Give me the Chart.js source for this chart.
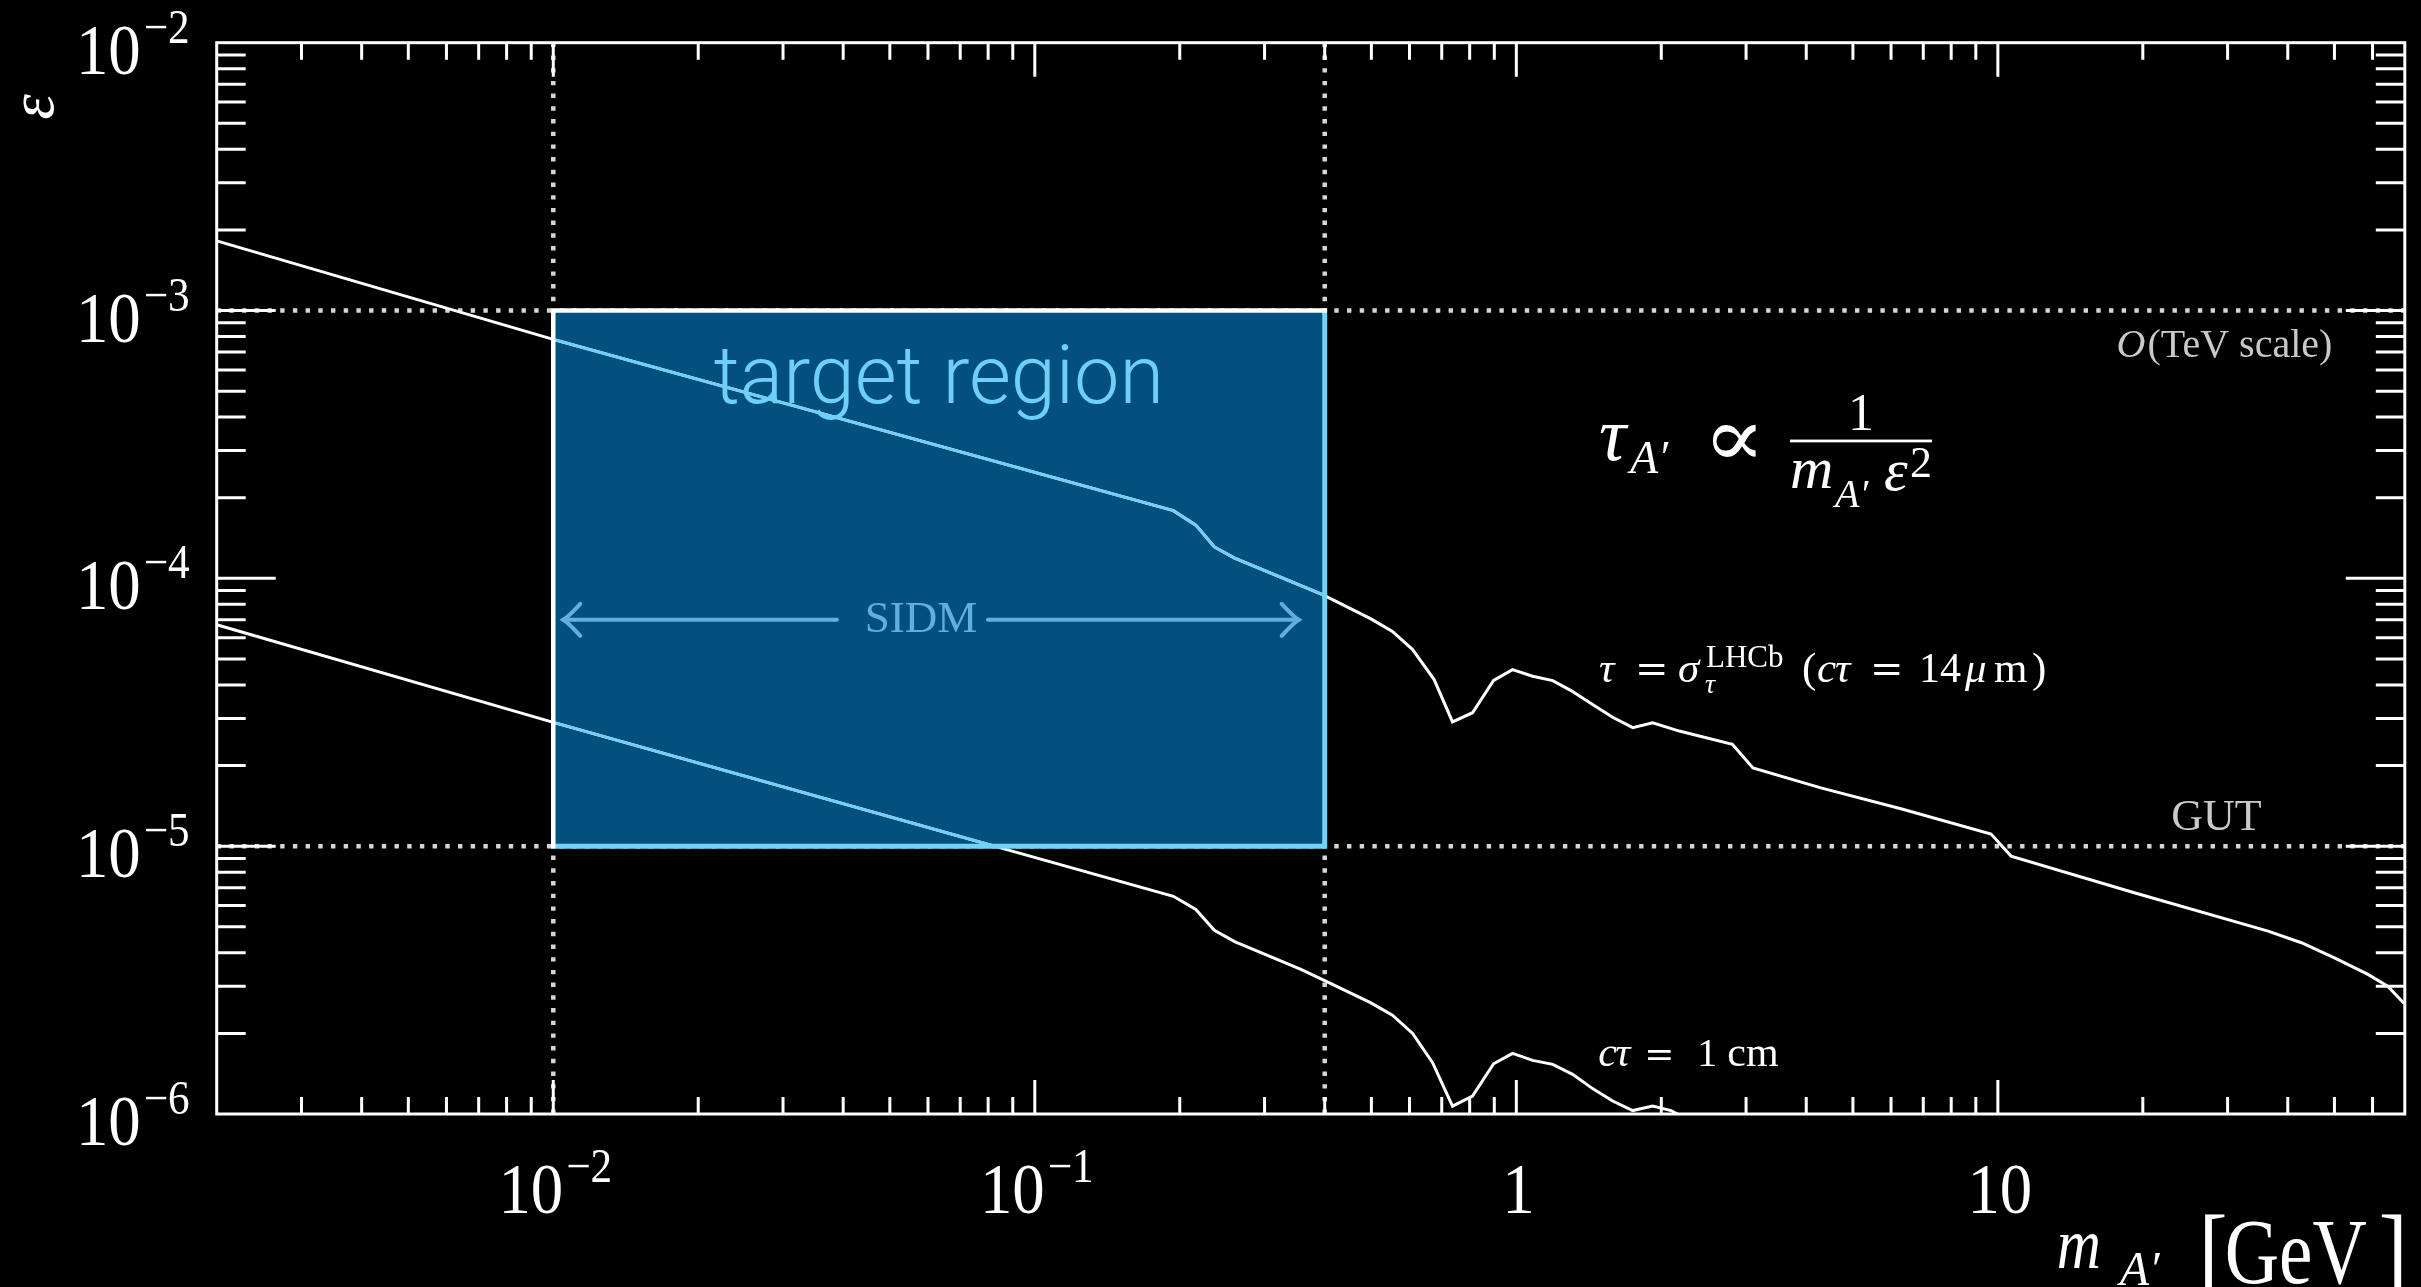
<!DOCTYPE html>
<html>
<head>
<meta charset="utf-8">
<title>Dark photon lifetime contours</title>
<script src="https://cdn.jsdelivr.net/npm/chart.js@4.4.1/dist/chart.umd.min.js"></script>
<style>
  html, body { margin: 0; padding: 0; background: #000; }
  canvas { display: block; }
</style>
</head>
<body>
<canvas id="plot" width="2421" height="1287"></canvas>
<script>
// Lifetime contour tau = sigma_tau^LHCb (c tau = 14 um): dark photon mass [GeV] vs kinetic mixing
const massLHCb = [0.002, 0.01, 0.194, 0.216, 0.236, 0.260, 0.396, 0.499, 0.553, 0.609, 0.675,
  0.737, 0.811, 0.897, 0.982, 1.081, 1.19, 1.299, 1.44, 1.585, 1.745, 1.919, 2.18, 2.81, 3.10,
  4.29, 6.29, 9.68, 10.65, 19.2, 36.4, 42.7, 50.0, 58.7, 64.5, 69.7];
const epsLHCb = [1.82e-3, 7.8e-4, 1.79e-4, 1.58e-4, 1.31e-4, 1.19e-4, 8.69e-5, 7.06e-5, 6.34e-5, 5.42e-5, 4.19e-5,
  2.91e-5, 3.15e-5, 4.16e-5, 4.56e-5, 4.31e-5, 4.15e-5, 3.81e-5, 3.38e-5, 3.03e-5, 2.77e-5, 2.89e-5, 2.69e-5, 2.40e-5, 1.96e-5,
  1.65e-5, 1.38e-5, 1.11e-5, 9.18e-6, 6.70e-6, 4.82e-6, 4.36e-6, 3.83e-6, 3.32e-6, 3.00e-6, 2.59e-6];

// Lifetime contour c tau = 1 cm
const mass1cm = [0.002, 0.01, 0.194, 0.216, 0.236, 0.260, 0.357, 0.40, 0.499, 0.553, 0.609, 0.670,
  0.737, 0.811, 0.897, 0.982, 1.081, 1.19, 1.309, 1.44, 1.585, 1.745, 1.919, 2.095, 2.18];
const eps1cm = [6.71e-5, 2.9e-5, 6.5e-6, 5.8e-6, 4.85e-6, 4.4e-6, 3.47e-6, 3.15e-6, 2.60e-6, 2.34e-6, 2.0e-6, 1.555e-6,
  1.07e-6, 1.167e-6, 1.54e-6, 1.684e-6, 1.586e-6, 1.532e-6, 1.406e-6, 1.244e-6, 1.118e-6, 1.03e-6, 1.07e-6, 1.03e-6, 9.9e-7];

// Axis extents
const massRange = [0.002, 70];
const epsRange = [1e-6, 1e-2];

// Tick labels (base and exponent)
const massTickValues = [0.01, 0.1, 1, 10];
const massTickBase = ['10', '10', '1', '10'];
const massTickExp = ['\u22122', '\u22121', '', ''];
const epsTickValues = [1e-2, 1e-3, 1e-4, 1e-5, 1e-6];
const epsTickBase = ['10', '10', '10', '10', '10'];
const epsTickExp = ['\u22122', '\u22123', '\u22124', '\u22125', '\u22126'];

// Reference lines: O(TeV) and GUT mixing scales, SIDM mass window
const epsScaleLines = [1e-3, 1e-5];
const massSidmLines = [0.01, 0.4];

// Target region in (mass, mixing)
const targetMass = [0.01, 0.4];
const targetEps = [1e-5, 1e-3];

// Anchors for the annotations, in data coordinates
const anchorTarget = { m: 0.0632, e: 4.5e-4 };
const anchorSidm = { m: 0.058, e: 7e-5 };
const anchorFormula = { m: 1.485, e: 2.765e-4 };
const anchorLHCb = { m: 1.485, e: 4.10e-5 };
const anchor1cm = { m: 1.48, e: 1.51e-6 };
const anchorGUT = { m: 22.9, e: 1.149e-5 };
const anchorTeV = { m: 49.5, e: 6.7e-4 };

const SERIF = '"Liberation Serif", "DejaVu Serif", serif';
const SYMBOL = '"DejaVu Serif", "Liberation Serif", serif';
const WHITE = '#ffffff';
const GREY = '#c9c9c9';
const BOX_FILL = '#03507e';
const BOX_LIGHT = '#74d2f8';
const INBOX_LINE = '#6fcff6';
const SIDM_BLUE = '#62aedf';

function pts(xs, ys) { return xs.map((m, i) => ({ x: m, y: ys[i] })); }

function font(style, size) { return `${style} ${size}px ${SERIF}`; }
function sym(size) { return `${size}px ${SYMBOL}`; }

// Draw a list of text pieces placed relative to (x0, y0)
function drawPieces(ctx, pieces, x0, y0, color) {
  ctx.save();
  ctx.fillStyle = color;
  ctx.textBaseline = 'alphabetic';
  pieces.forEach(p => {
    ctx.save();
    ctx.font = p.f;
    ctx.translate(x0 + p.dx, y0 + (p.dy || 0));
    ctx.scale(p.sx || 1, 1);
    ctx.textAlign = p.align || 'left';
    ctx.fillText(p.t, 0, 0);
    ctx.restore();
  });
  ctx.restore();
}

// Power-of-ten label: returns total width; draws when draw=true
function powerLabel(ctx, base, exp, x, y, draw) {
  const sx = 0.9;
  ctx.font = font('', 72);
  const wb = ctx.measureText(base).width * sx;
  ctx.font = font('', 48);
  const we = exp ? ctx.measureText(exp).width * sx + 3 : 0;
  if (draw) {
    drawPieces(ctx, [{ t: base, f: font('', 72), dx: 0, sx }], x, y, WHITE);
    if (exp) drawPieces(ctx, [{ t: exp, f: font('', 48), dx: wb + 3, dy: -31, sx }], x, y, WHITE);
  }
  return wb + we;
}

function minorValues(lo, hi) {
  const out = [];
  for (let e = Math.floor(Math.log10(lo)) - 1; e <= Math.ceil(Math.log10(hi)); e++) {
    for (let k = 1; k <= 9; k++) {
      const v = k * Math.pow(10, e);
      if (v >= lo * 0.999 && v <= hi * 1.001) out.push({ v, major: k === 1 });
    }
  }
  return out;
}

const decorations = {
  id: 'decorations',
  beforeDatasetsDraw(chart) {
    const { ctx, chartArea: a, scales: { x, y } } = chart;
    ctx.save();
    ctx.strokeStyle = '#d6d6d6';
    ctx.lineWidth = 4.5;
    ctx.setLineDash([4.4, 8.3]);
    epsScaleLines.forEach(v => {
      const py = y.getPixelForValue(v);
      ctx.beginPath(); ctx.moveTo(a.left, py); ctx.lineTo(a.right, py); ctx.stroke();
    });
    massSidmLines.forEach(v => {
      const px = x.getPixelForValue(v);
      ctx.beginPath(); ctx.moveTo(px, a.bottom); ctx.lineTo(px, a.top); ctx.stroke();
    });
    ctx.setLineDash([]);
    const l = x.getPixelForValue(targetMass[0]), r = x.getPixelForValue(targetMass[1]);
    const t = y.getPixelForValue(targetEps[1]), b = y.getPixelForValue(targetEps[0]);
    ctx.fillStyle = BOX_FILL;
    ctx.fillRect(l, t, r - l, b - t);
    ctx.restore();
  },
  afterDatasetsDraw(chart) {
    const { ctx, chartArea: a, scales: { x, y } } = chart;
    const l = x.getPixelForValue(targetMass[0]), r = x.getPixelForValue(targetMass[1]);
    const t = y.getPixelForValue(targetEps[1]), b = y.getPixelForValue(targetEps[0]);

    // contours re-stroked inside the target region
    ctx.save();
    ctx.beginPath(); ctx.rect(l, t, r - l, b - t); ctx.clip();
    ctx.strokeStyle = INBOX_LINE; ctx.lineWidth = 3; ctx.lineJoin = 'round';
    chart.data.datasets.forEach((ds, i) => {
      const meta = chart.getDatasetMeta(i);
      ctx.beginPath();
      meta.data.forEach((p, j) => (j ? ctx.lineTo(p.x, p.y) : ctx.moveTo(p.x, p.y)));
      ctx.stroke();
    });
    ctx.restore();

    // target region edges
    ctx.save();
    ctx.lineCap = 'square';
    ctx.strokeStyle = BOX_LIGHT; ctx.lineWidth = 5;
    ctx.beginPath(); ctx.moveTo(r, t); ctx.lineTo(r, b); ctx.lineTo(l, b); ctx.stroke();
    ctx.strokeStyle = WHITE; ctx.lineWidth = 4.5;
    ctx.beginPath(); ctx.moveTo(l, b); ctx.lineTo(l, t); ctx.lineTo(r, t); ctx.stroke();
    ctx.restore();

    // "target region"
    ctx.save();
    ctx.fillStyle = INBOX_LINE;
    ctx.font = '300 81px Roboto, Lato, "Open Sans", sans-serif';
    ctx.textAlign = 'center';
    ctx.fillText('target region', x.getPixelForValue(anchorTarget.m), y.getPixelForValue(anchorTarget.e));
    ctx.restore();

    // SIDM double arrow
    const sy = y.getPixelForValue(anchorSidm.e);
    const sx = x.getPixelForValue(anchorSidm.m);
    const tipL = l + 10, tipR = r - 26;
    ctx.save();
    ctx.strokeStyle = SIDM_BLUE; ctx.lineWidth = 4; ctx.lineCap = 'round';
    ctx.beginPath(); ctx.moveTo(tipL, sy); ctx.lineTo(sx - 84, sy); ctx.stroke();
    ctx.beginPath(); ctx.moveTo(sx + 67, sy); ctx.lineTo(tipR, sy); ctx.stroke();
    [[tipL, 1], [tipR, -1]].forEach(([tx, d]) => {
      ctx.beginPath();
      ctx.moveTo(tx + d * 17, sy - 16); ctx.quadraticCurveTo(tx + d * 5, sy - 3, tx, sy);
      ctx.quadraticCurveTo(tx + d * 5, sy + 3, tx + d * 17, sy + 16);
      ctx.stroke();
    });
    ctx.fillStyle = SIDM_BLUE;
    ctx.font = font('', 45);
    ctx.textAlign = 'center';
    ctx.fillText('SIDM', sx, sy + 12);
    ctx.restore();

    // tau_A' proportional to 1/(m_A' eps^2)
    const fx = x.getPixelForValue(anchorFormula.m), fy = y.getPixelForValue(anchorFormula.e);
    drawPieces(ctx, [
      { t: '\u03C4', f: font('italic', 76), dx: 0 },
      { t: 'A\u2032', f: font('italic', 46), dx: 31, dy: 13 },
      { t: '\u221D', f: sym(84), dx: 104, dy: 6, sx: 1.1 },
      { t: '1', f: font('', 52), dx: 262, dy: -30, align: 'center' },
      { t: 'm', f: font('italic', 60), dx: 191, dy: 28 },
      { t: 'A\u2032', f: font('italic', 40), dx: 236, dy: 47 },
      { t: '\u03B5', f: font('italic', 60), dx: 285, dy: 30 },
      { t: '2', f: font('', 44), dx: 311, dy: 17 }
    ], fx, fy, WHITE);
    ctx.save();
    ctx.fillStyle = WHITE;
    ctx.fillRect(fx + 191, fy - 20.5, 142, 2.8);
    ctx.restore();

    // tau = sigma_tau^LHCb (c tau = 14 um)
    const lx = x.getPixelForValue(anchorLHCb.m), ly = y.getPixelForValue(anchorLHCb.e);
    drawPieces(ctx, [
      { t: '\u03C4', f: font('italic', 43), dx: 0 },
      { t: '=', f: sym(40), dx: 36 },
      { t: '\u03C3', f: font('italic', 43), dx: 79 },
      { t: '\u03C4', f: font('italic', 28), dx: 106, dy: 11 },
      { t: 'LHCb', f: font('', 31), dx: 107, dy: -15 },
      { t: '(', f: font('', 43), dx: 203 },
      { t: 'c', f: font('italic', 43), dx: 218 },
      { t: '\u03C4', f: font('italic', 43), dx: 236 },
      { t: '=', f: sym(40), dx: 271 },
      { t: '14', f: font('', 42), dx: 320 },
      { t: '\u03BC', f: font('italic', 43), dx: 366 },
      { t: 'm', f: font('', 43), dx: 395 },
      { t: ')', f: font('', 43), dx: 433 }
    ], lx, ly, WHITE);

    // c tau = 1 cm
    const cx = x.getPixelForValue(anchor1cm.m), cy = y.getPixelForValue(anchor1cm.e);
    drawPieces(ctx, [
      { t: 'c', f: font('italic', 42), dx: 0 },
      { t: '\u03C4', f: font('italic', 42), dx: 17 },
      { t: '=', f: sym(36), dx: 46 },
      { t: '1', f: font('', 40), dx: 99 },
      { t: 'cm', f: font('', 42), dx: 129 }
    ], cx, cy, WHITE);

    // GUT and O(TeV scale) labels
    drawPieces(ctx, [{ t: 'GUT', f: font('', 44), dx: 0 }],
      x.getPixelForValue(anchorGUT.m), y.getPixelForValue(anchorGUT.e), GREY);
    const tx = x.getPixelForValue(anchorTeV.m), ty = y.getPixelForValue(anchorTeV.e);
    ctx.font = font('', 40);
    const wRest = ctx.measureText('(TeV scale)').width;
    ctx.font = font('italic', 40);
    const wO = ctx.measureText('O').width;
    drawPieces(ctx, [
      { t: 'O', f: font('italic', 40), dx: -wRest - wO - 2 },
      { t: '(TeV scale)', f: font('', 40), dx: -wRest }
    ], tx, ty, GREY);

    // frame
    ctx.save();
    ctx.strokeStyle = WHITE; ctx.lineWidth = 3;
    ctx.strokeRect(a.left, a.top, a.right - a.left, a.bottom - a.top);

    // mass ticks, bottom and top, pointing inwards
    minorValues(massRange[0], massRange[1]).forEach(({ v, major }) => {
      const px = x.getPixelForValue(v);
      if (px <= a.left + 2 || px >= a.right - 2) return;
      const len = major ? 34 : 17;
      ctx.beginPath();
      ctx.moveTo(px, a.bottom); ctx.lineTo(px, a.bottom - len);
      ctx.moveTo(px, a.top); ctx.lineTo(px, a.top + len);
      ctx.stroke();
    });
    // mixing ticks, left and right
    minorValues(epsRange[0], epsRange[1]).forEach(({ v, major }) => {
      const py = y.getPixelForValue(v);
      if (py <= a.top + 2 || py >= a.bottom - 2) return;
      const len = major ? 59 : 29;
      ctx.beginPath();
      ctx.moveTo(a.left, py); ctx.lineTo(a.left + len, py);
      ctx.moveTo(a.right, py); ctx.lineTo(a.right - len, py);
      ctx.stroke();
    });
    ctx.restore();

    // tick labels
    massTickValues.forEach((v, i) => {
      const px = x.getPixelForValue(v);
      const w = powerLabel(ctx, massTickBase[i], massTickExp[i], 0, 0, false);
      powerLabel(ctx, massTickBase[i], massTickExp[i], px - w / 2 + 2, a.bottom + 99, true);
    });
    epsTickValues.forEach((v, i) => {
      const py = y.getPixelForValue(v);
      const w = powerLabel(ctx, epsTickBase[i], epsTickExp[i], 0, 0, false);
      powerLabel(ctx, epsTickBase[i], epsTickExp[i], a.left - 27 - w, py + 31, true);
    });

    // axis titles
    ctx.save();
    ctx.fillStyle = WHITE;
    ctx.translate(36, 107);
    ctx.rotate(-Math.PI / 2);
    ctx.font = font('italic', 64);
    ctx.textAlign = 'center';
    ctx.textBaseline = 'middle';
    ctx.fillText('\u03B5', 0, 0);
    ctx.restore();

    const ax = a.right, ay = a.bottom;
    drawPieces(ctx, [
      { t: 'm', f: font('italic', 72), dx: -348, dy: 154, sx: 0.85 },
      { t: 'A\u2032', f: font('italic', 48), dx: -285, dy: 171 },
      { t: '[', f: font('', 108), dx: -206, dy: 176, sx: 0.8 },
      { t: 'GeV', f: font('', 94), dx: -180, dy: 169, sx: 0.8 },
      { t: ']', f: font('', 108), dx: -26, dy: 176, sx: 0.8 }
    ], ax, ay, WHITE);
  }
};

new Chart(document.getElementById('plot'), {
  type: 'line',
  data: {
    datasets: [
      { label: 'tau = sigma_tau^LHCb (c tau = 14 um)', data: pts(massLHCb, epsLHCb),
        borderColor: WHITE, borderWidth: 3, pointRadius: 0, tension: 0, fill: false },
      { label: 'c tau = 1 cm', data: pts(mass1cm, eps1cm),
        borderColor: WHITE, borderWidth: 3, pointRadius: 0, tension: 0, fill: false }
    ]
  },
  options: {
    responsive: false,
    animation: false,
    devicePixelRatio: 1,
    events: [],
    layout: { padding: { left: 216.7, top: 42.7, right: 16.2, bottom: 173 } },
    plugins: { legend: { display: false }, tooltip: { enabled: false } },
    scales: {
      x: { type: 'logarithmic', min: massRange[0], max: massRange[1], display: false },
      y: { type: 'logarithmic', min: epsRange[0], max: epsRange[1], display: false }
    }
  },
  plugins: [decorations]
});
</script>
</body>
</html>
